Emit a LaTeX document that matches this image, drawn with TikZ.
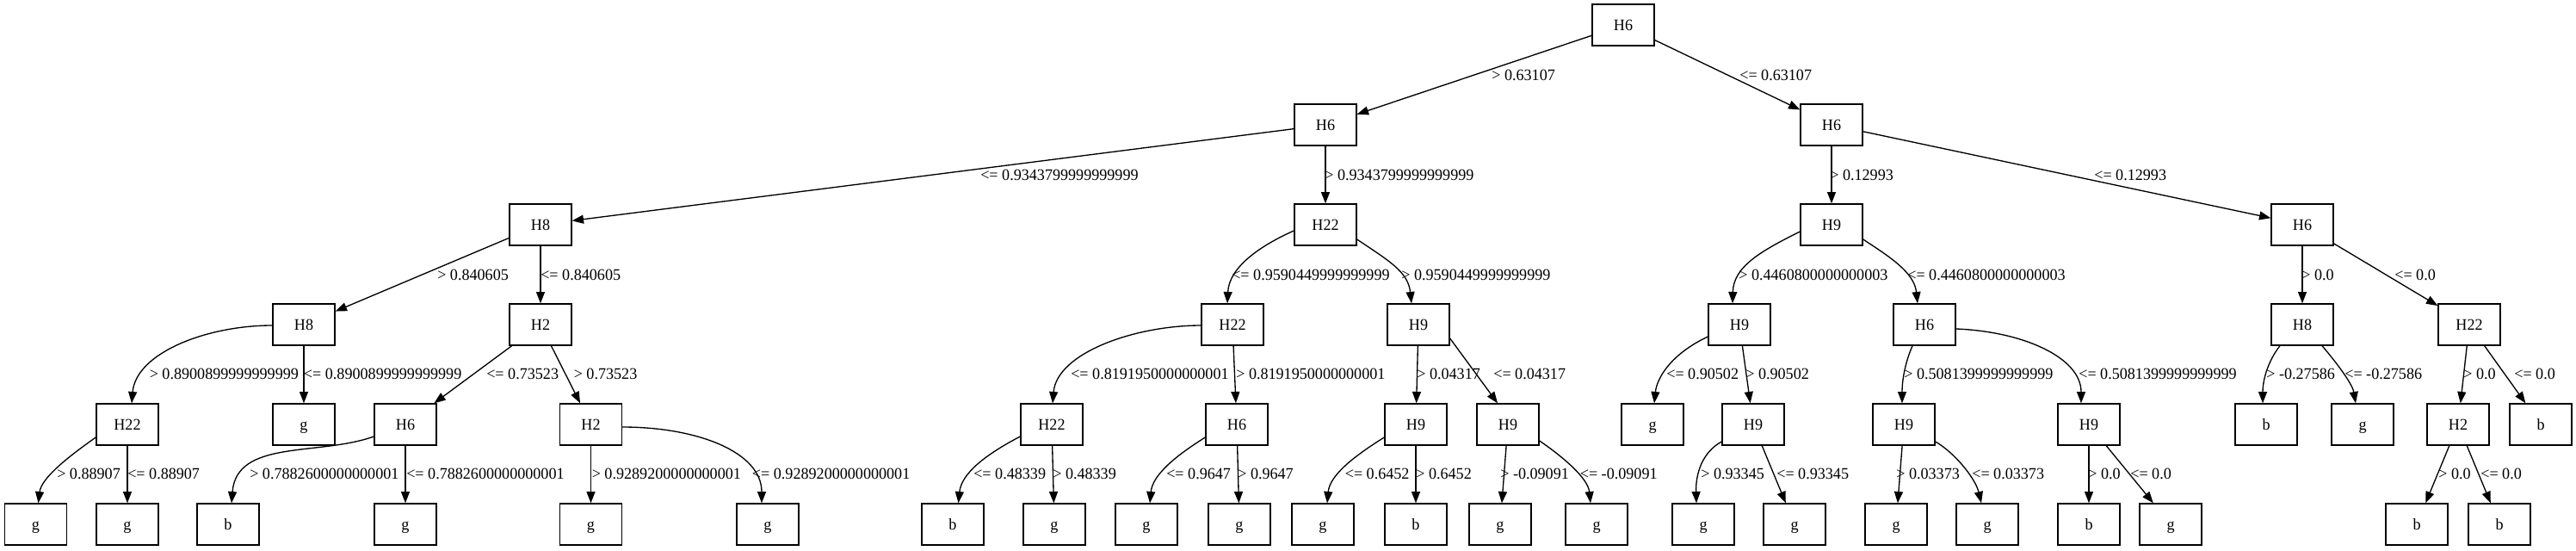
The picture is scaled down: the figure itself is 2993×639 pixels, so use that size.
\documentclass[tikz,border=0pt]{standalone}
\usepackage{fontspec}
\setmainfont{Liberation Serif}[FakeStretch=0.97]
\usetikzlibrary{arrows.meta,calc}
\begin{document}
\begin{tikzpicture}[x=0.75pt,y=-0.75pt,
  tn/.style={draw,line width=1pt,rectangle,minimum width=54pt,minimum height=36pt,inner sep=0pt,font=\fontsize{14pt}{16pt}\selectfont,text height=9.3pt,text depth=0pt},
  el/.style={anchor=west,inner sep=0pt,font=\fontsize{14pt}{16pt}\selectfont,text height=9.4pt,text depth=0pt},
  edge/.style={line width=1pt,-{Triangle[length=10pt,width=7.5pt]}}]
\useasboundingbox (0,0) rectangle (2993,639);
% level 1-4
\node[tn] (n0) at (1886,29) {H6};
\node[tn] (n1) at (1540,145) {H6};
\node[tn] (n2) at (2128,145) {H6};
\node[tn] (n3) at (628,261) {H8};
\node[tn] (n4) at (1540,261) {H22};
\node[tn] (n5) at (2128,261) {H9};
\node[tn] (n6) at (2675,261) {H6};
\node[tn] (n7) at (353,377) {H8};
\node[tn] (n8) at (628,377) {H2};
\node[tn] (n9) at (1432,377) {H22};
\node[tn] (n10) at (1648,377) {H9};
\node[tn] (n11) at (2021,377) {H9};
\node[tn] (n12) at (2236,377) {H6};
\node[tn] (n13) at (2675,377) {H8};
\node[tn] (n14) at (2869,377) {H22};
% level 5
\node[tn] (n15) at (148,493) {H22};
\node[tn] (n16) at (353,493) {g};
\node[tn] (n17) at (471,493) {H6};
\node[tn] (n18) at (686.5,493) {H2};
\node[tn] (n19) at (1222,493) {H22};
\node[tn] (n20) at (1437,493) {H6};
\node[tn] (n21) at (1645,493) {H9};
\node[tn] (n22) at (1752,493) {H9};
\node[tn] (n23) at (1920,493) {g};
\node[tn] (n24) at (2037,493) {H9};
\node[tn] (n25) at (2212,493) {H9};
\node[tn] (n26) at (2427,493) {H9};
\node[tn] (n27) at (2633,493) {b};
\node[tn] (n28) at (2745,493) {g};
\node[tn] (n29) at (2856,493) {H2};
\node[tn] (n30) at (2952,493) {b};
% level 6
\node[tn] (n31) at (41.5,609) {g};
\node[tn] (n32) at (148,609) {g};
\node[tn] (n33) at (265,609) {b};
\node[tn] (n34) at (471,609) {g};
\node[tn] (n35) at (686.5,609) {g};
\node[tn] (n36) at (892,609) {g};
\node[tn] (n37) at (1107,609) {b};
\node[tn] (n38) at (1225,609) {g};
\node[tn] (n39) at (1332,609) {g};
\node[tn] (n40) at (1440,609) {g};
\node[tn] (n41) at (1537,609) {g};
\node[tn] (n42) at (1645,609) {b};
\node[tn] (n43) at (1743,609) {g};
\node[tn] (n44) at (1855,609) {g};
\node[tn] (n45) at (1979,609) {g};
\node[tn] (n46) at (2085,609) {g};
\node[tn] (n47) at (2203,609) {g};
\node[tn] (n48) at (2309,609) {g};
\node[tn] (n49) at (2427,609) {b};
\node[tn] (n50) at (2522,609) {g};
\node[tn] (n51) at (2808,609) {b};
\node[tn] (n52) at (2904,609) {b};
% straight edges
\foreach \a/\b in {n0/n1,n0/n2,n1/n3,n1/n4,n2/n5,n2/n6,n3/n7,n3/n8,n6/n13,n6/n14,
  n7/n16,n8/n17,n8/n18,n9/n20,n10/n21,n11/n24,n14/n29,n14/n30,n15/n32,n17/n34,
  n18/n35,n19/n38,n20/n40,n21/n42,n22/n43,n24/n46,n25/n47,n26/n49,n26/n50,n29/n51,n29/n52}
  \draw[edge] (\a) -- (\b);
\draw[edge] ($(n10.east)+(0,16)$) -- ($(n22.north)+(-12,0)$);
% curved edges
\draw[edge] ($(n4.west)+(0,7)$) .. controls (1465,285) and (1428,310) .. ($(n9.north)+(-6,0)$);
\draw[edge] ($(n4.east)+(0,17)$) .. controls (1612,302) and (1636,315) .. ($(n10.north)+(-8,0)$);
\draw[edge] ($(n5.west)+(0,8)$) .. controls (2045,292) and (2014,310) .. ($(n11.north)+(-8,0)$);
\draw[edge] ($(n5.east)+(0,17)$) .. controls (2195,298) and (2224,316) .. ($(n12.north)+(-8,0)$);
\draw[edge] ($(n7.west)+(0,1)$) .. controls (240,378) and (158,410) .. ($(n15.north)+(5,0)$);
\draw[edge] ($(n15.west)+(0,15)$) .. controls (80,530) and (48,555) .. ($(n31.north)+(3,0)$);
\draw[edge] ($(n17.west)+(0,14)$) .. controls (370,530) and (275,510) .. ($(n33.north)+(4,0)$);
\draw[edge] ($(n18.east)+(0,3)$) .. controls (810,496) and (885,525) .. ($(n36.north)+(-7,0)$);
\draw[edge] ($(n9.west)+(0,1)$) .. controls (1318.5,378) and (1228,410) .. ($(n19.north)+(1,0)$);
\draw[edge] ($(n19.west)+(0,14)$) .. controls (1145,528) and (1117,550) .. ($(n37.north)+(6.5,0)$);
\draw[edge] ($(n20.west)+(0,15)$) .. controls (1365,530) and (1339,552) .. ($(n39.north)+(4,0)$);
\draw[edge] ($(n21.west)+(0,15)$) .. controls (1573,530) and (1545,552) .. ($(n41.north)+(5,0)$);
\draw[edge] ($(n22.east)+(0,19)$) .. controls (1815,530) and (1845,555) .. ($(n44.north)+(-7,0)$);
\draw[edge] ($(n11.west)+(0,14)$) .. controls (1940,412) and (1925,440) .. ($(n23.north)+(2,0)$);
\draw[edge] ($(n24.west)+(0,20)$) .. controls (1978,525) and (1970,550) .. ($(n45.north)+(-8,0)$);
\draw[edge] ($(n12.south)+(-14,0)$) .. controls (2214,420) and (2210,440) .. ($(n25.north)+(-2,0)$);
\draw[edge] ($(n12.east)+(0,5)$) .. controls (2350,385) and (2418,415) .. ($(n26.north)+(-9,0)$);
\draw[edge] ($(n25.east)+(0,20)$) .. controls (2270,525) and (2295,555) .. ($(n48.north)+(-7,0)$);
\draw[edge] ($(n13.south)+(-26,0)$) .. controls (2636,418) and (2629,440) .. ($(n27.north)+(-4,0)$);
\draw[edge] ($(n13.south)+(23,0)$) .. controls (2712,418) and (2733,445) .. ($(n28.north)+(-8,0)$);
% labels
\node[el] (l1) at (1733,87) {> 0.63107};
\node[el] (l2) at (2021,87) {<= 0.63107};
\node[el] (l3) at (1139,203) {<= 0.9343799999999999};
\node[el] (l4) at (1539,203) {> 0.9343799999999999};
\node[el] (l5) at (2126,203) {> 0.12993};
\node[el] (l6) at (2433,203) {<= 0.12993};
\node[el] (l7) at (508,319) {> 0.840605};
\node[el] (l8) at (628,319) {<= 0.840605};
\node[el] (l9) at (1431,319) {<= 0.9590449999999999};
\node[el] (l10) at (1628,319) {> 0.9590449999999999};
\node[el] (l11) at (2020,319) {> 0.4460800000000003};
\node[el] (l12) at (2216,319) {<= 0.4460800000000003};
\node[el] (l13) at (2674,319) {> 0.0};
\node[el] (l14) at (2782,319) {<= 0.0};
\node[el] (l15) at (173.5,434) {> 0.8900899999999999};
\node[el] (l16) at (352.7,434) {<= 0.8900899999999999};
\node[el] (l17) at (565,434) {<= 0.73523};
\node[el] (l18) at (666.5,434) {> 0.73523};
\node[el] (l19) at (1244,434) {<= 0.8191950000000001};
\node[el] (l20) at (1436,434) {> 0.8191950000000001};
\node[el] (l21) at (1646,434) {> 0.04317};
\node[el] (l22) at (1735,434) {<= 0.04317};
\node[el] (l23) at (1936,434) {<= 0.90502};
\node[el] (l24) at (2028,434) {> 0.90502};
\node[el] (l25) at (2212,434) {> 0.5081399999999999};
\node[el] (l26) at (2415,434) {<= 0.5081399999999999};
\node[el] (l27) at (2633,434) {> -0.27586};
\node[el] (l28) at (2724,434) {<= -0.27586};
\node[el] (l29) at (2862,434) {> 0.0};
\node[el] (l30) at (2921,434) {<= 0.0};
\node[el] (l31) at (66,550) {> 0.88907};
\node[el] (l32) at (148,550) {<= 0.88907};
\node[el] (l33) at (290,550) {> 0.7882600000000001};
\node[el] (l34) at (472,550) {<= 0.7882600000000001};
\node[el] (l35) at (687.5,550) {> 0.9289200000000001};
\node[el] (l36) at (873.7,550) {<= 0.9289200000000001};
\node[el] (l37) at (1131,550) {<= 0.48339};
\node[el] (l38) at (1223,550) {> 0.48339};
\node[el] (l39) at (1355,550) {<= 0.9647};
\node[el] (l40) at (1438,550) {> 0.9647};
\node[el] (l41) at (1562.5,550) {<= 0.6452};
\node[el] (l42) at (1645,550) {> 0.6452};
\node[el] (l43) at (1743,550) {> -0.09091};
\node[el] (l44) at (1835.5,550) {<= -0.09091};
\node[el] (l45) at (1976,550) {> 0.93345};
\node[el] (l46) at (2064,550) {<= 0.93345};
\node[el] (l47) at (2203,550) {> 0.03373};
\node[el] (l48) at (2291,550) {<= 0.03373};
\node[el] (l49) at (2426,550) {> 0.0};
\node[el] (l50) at (2475,550) {<= 0.0};
\node[el] (l51) at (2833,550) {> 0.0};
\node[el] (l52) at (2882,550) {<= 0.0};
\end{tikzpicture}
\end{document}
